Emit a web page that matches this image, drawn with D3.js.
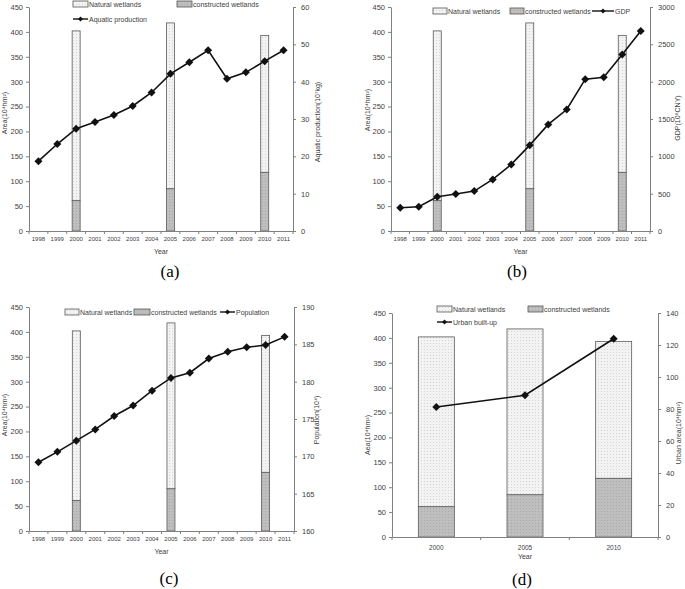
<!DOCTYPE html>
<html><head><meta charset="utf-8">
<script src="https://cdn.jsdelivr.net/npm/d3@7"></script>
<style>body{margin:0;background:#fff}svg{display:block}</style>
</head><body>
<script>
// ---------- DATA ----------
const years = ["1998","1999","2000","2001","2002","2003","2004","2005","2006","2007","2008","2009","2010","2011"];
const barYears = ["2000","2005","2010"];
const naturalWetlands = [341, 333, 275];
const constructedWetlands = [61, 85, 118];
const aquaticProduction = [18.7, 23.3, 27.4, 29.2, 31.1, 33.5, 37.1, 42.1, 45.2, 48.4, 40.8, 42.5, 45.5, 48.4];
const gdp = [312, 325, 459, 495, 535, 691, 892, 1150, 1427, 1627, 2033, 2060, 2363, 2680];
const population = [169.2, 170.6, 172.1, 173.6, 175.4, 176.8, 178.8, 180.5, 181.2, 183.1, 184.0, 184.6, 184.9, 186.0];
const urbanBuiltUp = [81.3, 88.6, 123.9];
const areaTicks = [0,50,100,150,200,250,300,350,400,450];
const aquaticTicks = [0,10,20,30,40,50,60];
const gdpTicks = [0,500,1000,1500,2000,2500,3000];
const populationTicks = [160,165,170,175,180,185,190];
const urbanTicks = [0,20,40,60,80,100,120,140];

// ---------- SETUP ----------
const W = 685, H = 589;
const FONT = "'Liberation Sans', Arial, sans-serif";
const TXT = "#404040", AX = "#808080";
const svg = d3.select("body").append("svg").attr("width", W).attr("height", H)
  .style("font-family", FONT);
const defs = svg.append("defs");
const pn = defs.append("pattern").attr("id","pNat").attr("width",3).attr("height",3).attr("patternUnits","userSpaceOnUse");
pn.append("rect").attr("width",3).attr("height",3).attr("fill","#f3f3f3");
pn.append("rect").attr("x",1).attr("y",1).attr("width",1).attr("height",1).attr("fill","#d4d4d4");
const pc = defs.append("pattern").attr("id","pCon").attr("width",3).attr("height",3).attr("patternUnits","userSpaceOnUse");
pc.append("rect").attr("width",3).attr("height",3).attr("fill","#bebebe");
pc.append("rect").attr("x",1).attr("y",1).attr("width",1).attr("height",1).attr("fill","#aaaaaa");

const diamond = "M0,-4L4,0L0,4L-4,0Z";
const fmt = d3.format("d");

function panel(o){
  const g = svg.append("g");
  const x = d3.scaleBand().domain(o.cats).range([o.left, o.right]);
  const bw = x.bandwidth();
  const yL = d3.scaleLinear().domain([0,450]).range([o.bottom, o.top]);
  const yR = d3.scaleLinear().domain(o.rDomain).range([o.bottom, o.top]);

  // bars
  const bars = barYears.map((c,i)=>({c, con: constructedWetlands[i], nat: naturalWetlands[i]}));
  g.selectAll(".con").data(bars).join("rect")
    .attr("x", d => x(d.c) + bw/2 - o.barW/2).attr("width", o.barW)
    .attr("y", d => yL(d.con)).attr("height", d => yL(0) - yL(d.con))
    .attr("fill","url(#pCon)").attr("stroke","#5a5a5a").attr("stroke-width",0.8);
  g.selectAll(".nat").data(bars).join("rect")
    .attr("x", d => x(d.c) + bw/2 - o.barW/2).attr("width", o.barW)
    .attr("y", d => yL(d.con + d.nat)).attr("height", d => yL(d.con) - yL(d.con + d.nat))
    .attr("fill","url(#pNat)").attr("stroke","#5a5a5a").attr("stroke-width",0.8);

  // axes
  const la = g.append("g").attr("transform",`translate(${o.left},0)`)
    .call(d3.axisLeft(yL).tickValues(areaTicks).tickFormat(fmt).tickSize(3).tickPadding(3).tickSizeOuter(0));
  const ra = g.append("g").attr("transform",`translate(${o.right},0)`)
    .call(d3.axisRight(yR).tickValues(o.rTicks).tickFormat(fmt).tickSize(3).tickPadding(5).tickSizeOuter(0));
  const ba = g.append("g").attr("transform",`translate(0,${o.bottom})`)
    .call(d3.axisBottom(x).tickSize(0).tickPadding(o.xPad).tickSizeOuter(0));
  [la, ra].forEach(a => {
    a.selectAll("path,line").attr("stroke", AX);
    a.selectAll("text").attr("fill", TXT).style("font-size", o.yFont + "px").style("font-family", FONT);
  });
  ba.select("path").attr("stroke", AX);
  ba.selectAll("text").attr("fill", TXT).style("font-size", o.xFont + "px").style("font-family", FONT);
  // boundary ticks
  const bounds = o.cats.map(c => x(c)).concat([o.right]);
  g.selectAll(".bt").data(bounds).join("line")
    .attr("x1", d => d).attr("x2", d => d).attr("y1", o.bottom).attr("y2", o.bottom + 3)
    .attr("stroke", AX);

  // line
  const pts = o.cats.map((c,i) => ({c, v: o.line[i]}));
  g.append("path").datum(pts)
    .attr("d", d3.line().x(d => x(d.c) + bw/2).y(d => yR(d.v)))
    .attr("fill","none").attr("stroke","#111").attr("stroke-width",1.6);
  g.selectAll(".mk").data(pts).join("path")
    .attr("d", diamond).attr("transform", d => `translate(${x(d.c)+bw/2},${yR(d.v)})`)
    .attr("fill","#111");

  // axis titles
  g.append("text").attr("x", (o.left+o.right)/2 + o.yearDx).attr("y", o.bottom + o.yearDy)
    .attr("text-anchor","middle").attr("fill",TXT).style("font-size","7px").text("Year");
  g.append("text").attr("transform",`translate(${o.lLabel[0]},${o.lLabel[1]}) rotate(-90)`)
    .attr("text-anchor","middle").attr("fill",TXT).style("font-size","7px").text(o.lTitle);
  g.append("text").attr("transform",`translate(${o.rLabel[0]},${o.rLabel[1]}) rotate(-90)`)
    .attr("text-anchor","middle").attr("fill",TXT).style("font-size","7px").text(o.rTitle);

  // legend
  o.legend.forEach(it => {
    if (it.type === "box") {
      g.append("rect").attr("x", it.x).attr("y", it.y - 3).attr("width", it.w).attr("height", 6)
        .attr("fill", it.fill).attr("stroke","#555").attr("stroke-width",0.8);
    } else {
      g.append("line").attr("x1", it.x).attr("x2", it.x + it.w).attr("y1", it.y).attr("y2", it.y)
        .attr("stroke","#111").attr("stroke-width",1.4);
      g.append("path").attr("d","M0,-2.5L2.5,0L0,2.5L-2.5,0Z")
        .attr("transform",`translate(${it.x + it.w/2},${it.y})`).attr("fill","#111");
    }
    g.append("text").attr("x", it.x + it.w + 1).attr("y", it.y + 2.5)
      .attr("fill", TXT).style("font-size","7px").text(it.label);
  });

  // panel letter
  svg.append("text").attr("x", o.letter[0]).attr("y", o.letter[1]).attr("text-anchor","middle")
    .style("font-family","'Liberation Serif', 'Times New Roman', serif").style("font-size","17px")
    .attr("fill","#000").text(o.letterText);
}

panel({
  cats: years, left: 29, right: 293, top: 7, bottom: 231, barW: 8,
  rDomain: [0,60], rTicks: aquaticTicks, line: aquaticProduction,
  xFont: 6, yFont: 7.5, xPad: 6, yearDx: 0, yearDy: 23,
  lTitle: "Area(10⁴hm²)", lLabel: [7, 113],
  rTitle: "Aquatic production(10⁷kg)", rLabel: [320, 122],
  legend: [
    {type:"box", fill:"url(#pNat)", x:73, y:4, w:15, label:"Natural wetlands"},
    {type:"box", fill:"url(#pCon)", x:177, y:4, w:15, label:"constructed wetlands"},
    {type:"line", x:73, y:19, w:15, label:"Aquatic production"}
  ],
  letter: [170, 277], letterText: "(a)"
});

panel({
  cats: years, left: 391, right: 650, top: 7, bottom: 231, barW: 8,
  rDomain: [0,3000], rTicks: gdpTicks, line: gdp,
  xFont: 6, yFont: 7.5, xPad: 6, yearDx: 0, yearDy: 23,
  lTitle: "Area(10⁴hm²)", lLabel: [370, 110],
  rTitle: "GDP(10⁸CNY)", rLabel: [680, 118],
  legend: [
    {type:"box", fill:"url(#pNat)", x:433, y:11, w:14, label:"Natural wetlands"},
    {type:"box", fill:"url(#pCon)", x:510, y:11, w:14, label:"constructed wetlands"},
    {type:"line", x:592, y:11, w:22, label:"GDP"}
  ],
  letter: [517, 277], letterText: "(b)"
});

panel({
  cats: years, left: 29, right: 294, top: 307, bottom: 531, barW: 8,
  rDomain: [160,190], rTicks: populationTicks, line: population,
  xFont: 6, yFont: 7.5, xPad: 6, yearDx: 0, yearDy: 23,
  lTitle: "Area(10⁴hm²)", lLabel: [7, 415],
  rTitle: "Population(10⁴)", rLabel: [319, 420],
  legend: [
    {type:"box", fill:"url(#pNat)", x:65, y:312, w:14, label:"Natural wetlands"},
    {type:"box", fill:"url(#pCon)", x:134, y:312, w:16, label:"constructed wetlands"},
    {type:"line", x:220, y:312, w:15, label:"Population"}
  ],
  letter: [169, 584], letterText: "(c)"
});

panel({
  cats: barYears, left: 392, right: 658, top: 313, bottom: 537, barW: 36,
  rDomain: [0,140], rTicks: urbanTicks, line: urbanBuiltUp,
  xFont: 6.5, yFont: 7.5, xPad: 8, yearDx: 0, yearDy: 22,
  lTitle: "Aea(10⁴hm²)", lLabel: [370, 435],
  rTitle: "Urban area(10⁴hm²)", rLabel: [681, 433],
  legend: [
    {type:"box", fill:"url(#pNat)", x:437, y:309, w:15, label:"Natural wetlands"},
    {type:"box", fill:"url(#pCon)", x:528, y:309, w:15, label:"constructed wetlands"},
    {type:"line", x:437, y:322, w:15, label:"Urban built-up"}
  ],
  letter: [522, 585], letterText: "(d)"
});
</script>
</body></html>
